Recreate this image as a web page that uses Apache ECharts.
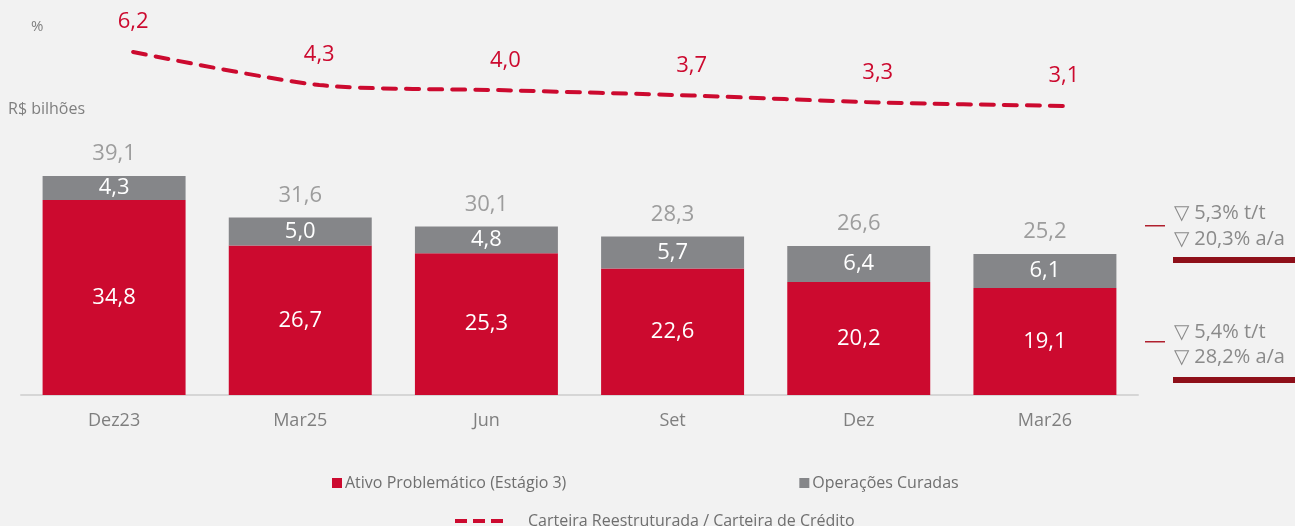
<!DOCTYPE html>
<html><head><meta charset="utf-8">
<script src="https://cdn.jsdelivr.net/npm/echarts@6/dist/echarts.min.js"></script>
<style>html,body{margin:0;padding:0;background:#f2f2f2;}#c{width:1295px;height:526px;}</style>
</head><body><div id="c"></div>
<script>
const categories = ['Dez23','Mar25','Jun','Set','Dez','Mar26'];
const ativoProblematico = [34.8, 26.7, 25.3, 22.6, 20.2, 19.1];
const operacoesCuradas = [4.3, 5.0, 4.8, 5.7, 6.4, 6.1];
const totais = [39.1, 31.6, 30.1, 28.3, 26.6, 25.2];
const carteiraReestruturada = [6.2, 4.3, 4.0, 3.7, 3.3, 3.1];

const RED = '#cc0a2f', GRAY = '#858689', TXT = '#7f7f7f', FONT = 'Open Sans';
const fmt = v => v.toFixed(1).replace('.', ',');

const chart = echarts.init(document.getElementById('c'));
chart.setOption({
  backgroundColor: '#f2f2f2',
  textStyle: { fontFamily: FONT },
  animation: false,
  grid: [
    { left: 21, right: 157, top: 171, bottom: 131 },
    { left: 40, right: 138, top: 38, bottom: 366 }
  ],
  xAxis: [
    { type: 'category', gridIndex: 0, data: categories,
      axisLine: { lineStyle: { color: '#d6d6d6', width: 2 } },
      axisTick: { show: false },
      axisLabel: { color: TXT, fontSize: 18, margin: 17, fontFamily: FONT } },
    { type: 'category', gridIndex: 1, data: categories, show: false }
  ],
  yAxis: [
    { type: 'value', gridIndex: 0, min: 0, max: 40, show: false, splitLine: { show: false } },
    { type: 'value', gridIndex: 1, min: 0, max: 7, show: false, splitLine: { show: false } }
  ],
  legend: [
    { data: ['Ativo Problemático (Estágio 3)', 'Operações Curadas'], left: 327, top: 470,
      itemWidth: 10, itemHeight: 10, itemGap: 233, icon: 'rect',
      textStyle: { color: '#6f6f6f', fontSize: 16, fontFamily: FONT, padding: [0,0,0,-2] } },
    { data: ['Carteira Reestruturada / Carteira de Crédito'], left: 450, top: 508,
      itemWidth: 48, itemHeight: 5, itemGap: 10,
      icon: 'path://M0,0H12V4H0Z M18,0H30V4H18Z M36,0H48V4H36Z',
      textStyle: { color: '#6f6f6f', fontSize: 16, fontFamily: FONT, padding: [0,0,0,20] } }
  ],
  series: [
    { name: 'Ativo Problemático (Estágio 3)', type: 'bar', stack: 'a', data: ativoProblematico,
      barWidth: '76.8%', itemStyle: { color: RED },
      label: { show: true, position: 'inside', color: '#fff', fontSize: 22, fontFamily: FONT,
        formatter: p => fmt(p.value) } },
    { name: 'Operações Curadas', type: 'bar', stack: 'a', data: operacoesCuradas,
      barWidth: '76.8%', itemStyle: { color: GRAY },
      label: { show: true, position: 'inside', color: '#fff', fontSize: 22, fontFamily: FONT,
        formatter: p => fmt(p.value) } },
    { name: 'Total', type: 'scatter', data: totais, symbolSize: 0, silent: true,
      label: { show: true, position: 'top', distance: 11, color: '#878787', fontSize: 22, fontFamily: FONT,
        formatter: p => fmt(p.value) } },
    { name: 'Carteira Reestruturada / Carteira de Crédito', type: 'line', xAxisIndex: 1, yAxisIndex: 1,
      data: carteiraReestruturada, smooth: 0.25, showSymbol: true, symbol: 'circle', symbolSize: 0,
      itemStyle: { color: RED },
      lineStyle: { color: RED, width: 4, type: [13, 10], cap: 'round' },
      label: { show: true, position: 'top', distance: 19, color: RED, fontSize: 22, fontFamily: FONT,
        formatter: p => fmt(p.value) } }
  ],
  graphic: [
    { type: 'text', left: 31, top: 19, style: { text: '%', fill: TXT, fontSize: 15, fontFamily: FONT } },
    { type: 'text', left: 8, top: 101, style: { text: 'R$ bilhões', fill: TXT, fontSize: 16, fontFamily: FONT } },
    { type: 'rect', shape: { x: 1145, y: 225, width: 20, height: 1.5 }, style: { fill: '#b0202e' } },
    { type: 'text', left: 1174, top: 200, style: { text: '▽ 5,3% t/t\n▽ 20,3% a/a', fill: '#8a8a8a', fontSize: 20, lineHeight: 26, fontFamily: FONT } },
    { type: 'rect', shape: { x: 1173, y: 257, width: 122, height: 6 }, style: { fill: '#8e0f19' } },
    { type: 'rect', shape: { x: 1145, y: 341, width: 20, height: 1.5 }, style: { fill: '#b0202e' } },
    { type: 'text', left: 1174, top: 320, style: { text: '▽ 5,4% t/t\n▽ 28,2% a/a', fill: '#8a8a8a', fontSize: 20, lineHeight: 25, fontFamily: FONT } },
    { type: 'rect', shape: { x: 1173, y: 377, width: 122, height: 6 }, style: { fill: '#8e0f19' } }
  ]
});
</script></body></html>
